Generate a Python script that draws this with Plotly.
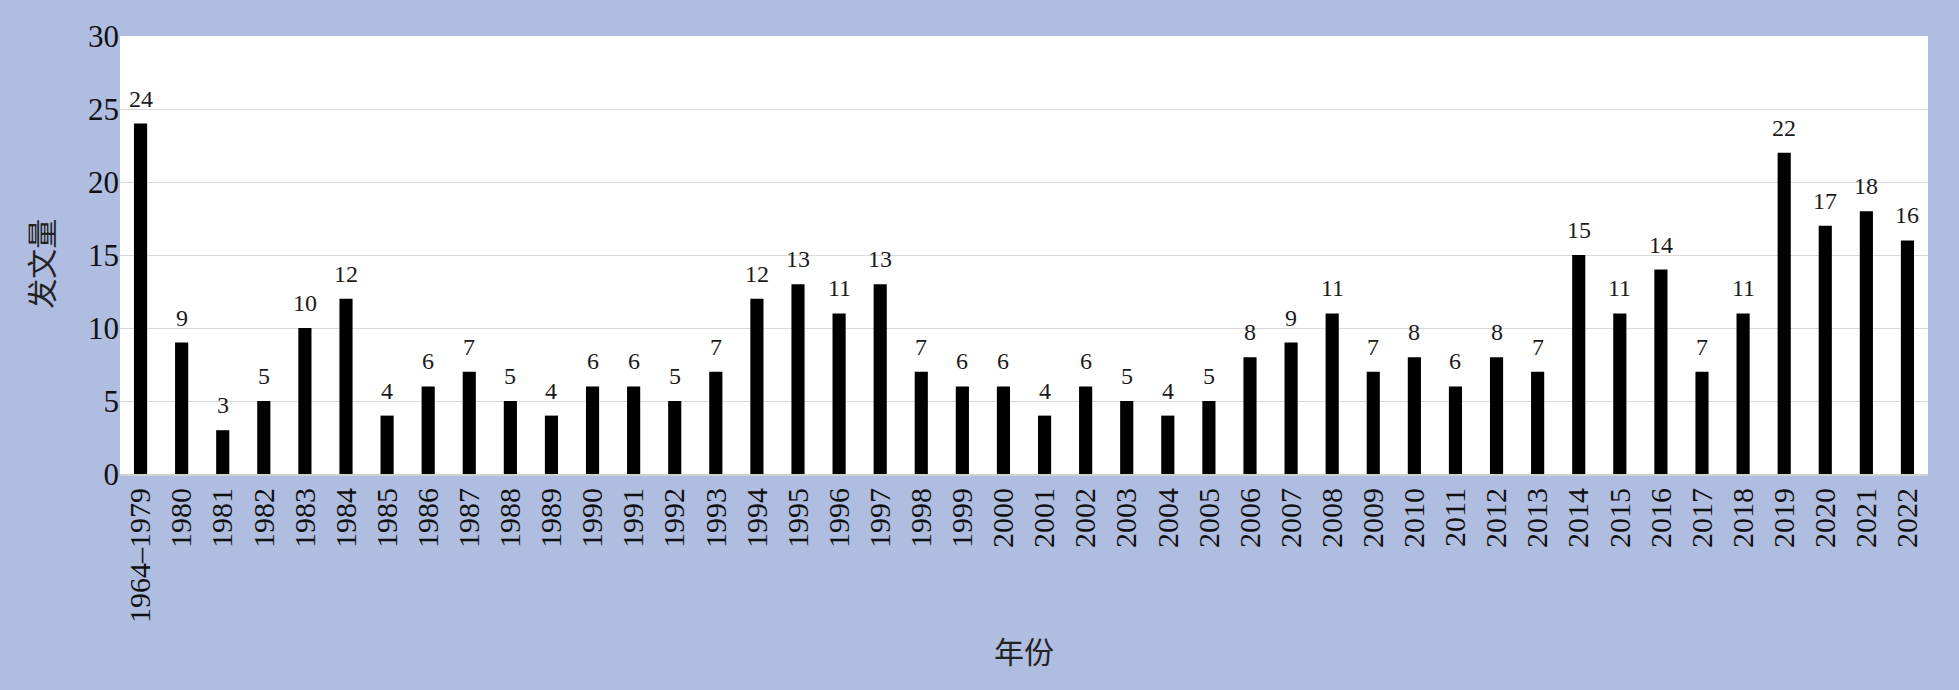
import plotly.graph_objects as go

categories = ["1964–1979"] + [str(y) for y in range(1980, 2023)]
counts = [24, 9, 3, 5, 10, 12, 4, 6, 7, 5, 4, 6, 6, 5, 7, 12, 13, 11, 13, 7,
          6, 6, 4, 6, 5, 4, 5, 8, 9, 11, 7, 8, 6, 8, 7, 15, 11, 14, 7, 11,
          22, 17, 18, 16]
y_ticks = [0, 5, 10, 15, 20, 25, 30]
x_title = "年份"
y_title = "发文量"

serif = "Liberation Serif, Times New Roman, serif"
cjk = "Noto Sans CJK SC"
bg = "#AFBDE0"

positions = list(range(len(categories)))

fig = go.Figure()
fig.add_trace(go.Bar(
    x=positions, y=counts,
    marker=dict(color="black", line=dict(width=0)),
    hovertext=categories, hoverinfo="text+y",
))

annotations = []
for p, v in zip(positions, counts):
    annotations.append(dict(
        x=p, y=v, xref="x", yref="y", text=str(v), showarrow=False,
        yanchor="bottom", yshift=10,
        font=dict(family=serif, size=24, color="#1a1a1a"),
    ))
annotations.append(dict(
    x=0, y=0.48, xref="paper", yref="paper", text=y_title, showarrow=False,
    textangle=-90, xanchor="center", yanchor="middle", xshift=-80,
    font=dict(family=cjk, size=30, color="#222"),
))
annotations.append(dict(
    x=0.5, y=0, xref="paper", yref="paper", text=x_title, showarrow=False,
    xanchor="center", yanchor="middle", yshift=-176,
    font=dict(family=cjk, size=30, color="#222"),
))

fig.update_layout(
    width=1959, height=690,
    paper_bgcolor=bg, plot_bgcolor="white",
    margin=dict(l=120, r=31, t=36, b=216, pad=0),
    bargap=0.68,
    showlegend=False,
    annotations=annotations,
    xaxis=dict(
        range=[-0.5, len(categories) - 0.5],
        tickmode="array", tickvals=positions, ticktext=categories,
        tickangle=-90,
        tickfont=dict(family=serif, size=30, color="#111"),
        showgrid=False, showline=True, linecolor="#d0d0d0", linewidth=2,
        ticks="", zeroline=False,
    ),
    yaxis=dict(
        range=[0, 30], tickvals=y_ticks,
        tickfont=dict(family=serif, size=31, color="#111"),
        showgrid=True, gridcolor="#d9d9d9", gridwidth=1,
        zeroline=False, showline=False, ticks="",
    ),
)

fig.write_html("out.html",
               config={"displayModeBar": False},
               post_script="document.body.style.margin='0';document.body.style.background='%s';" % bg)
